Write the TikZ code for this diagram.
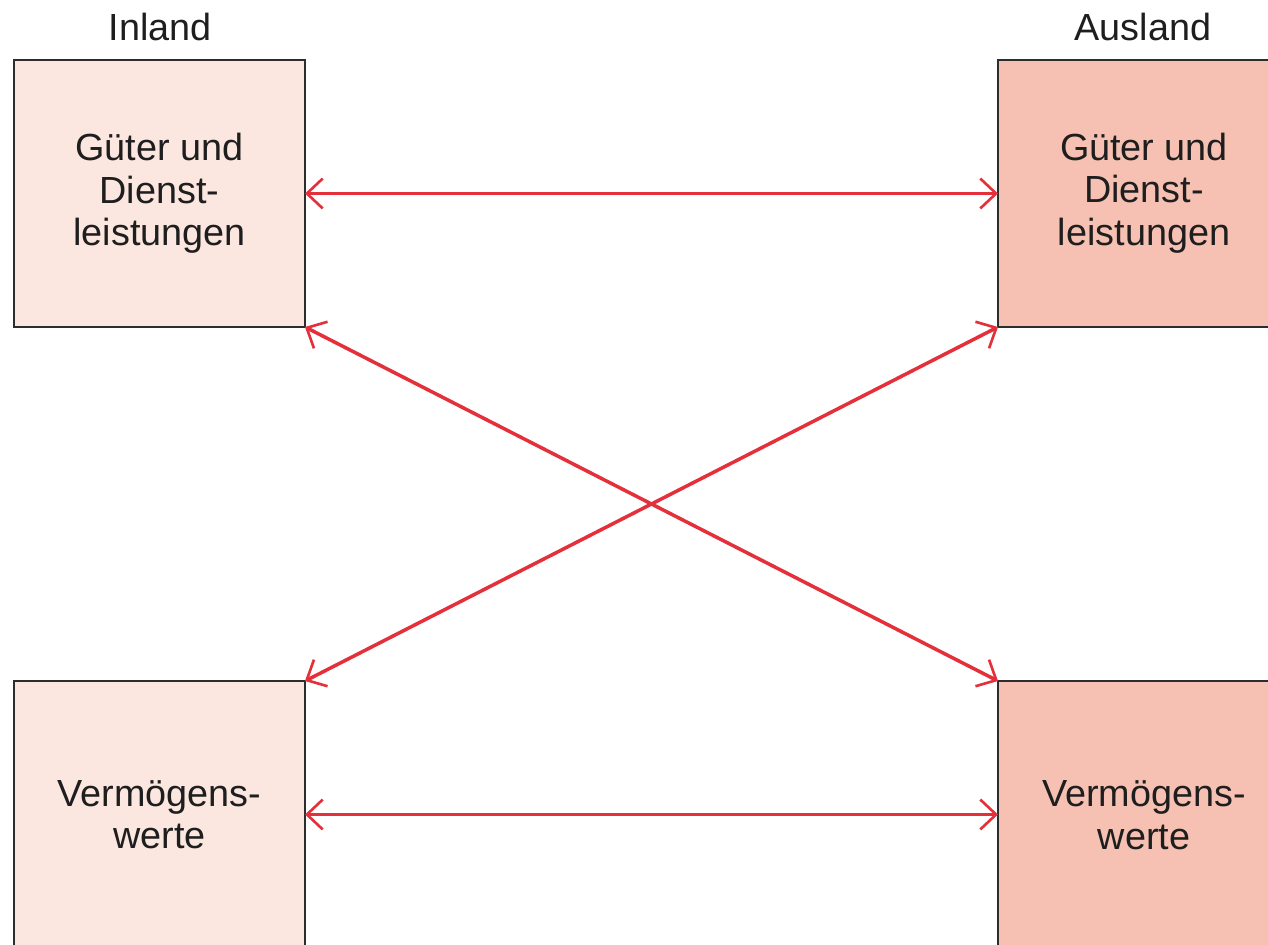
\documentclass[tikz,border=0pt]{standalone}
\usepackage{fontspec}
\setmainfont{Liberation Sans}
\usetikzlibrary{arrows.meta}
\definecolor{inlandfill}{RGB}{251,231,224}
\definecolor{auslandfill}{RGB}{246,193,178}
\definecolor{boxline}{RGB}{45,45,45}
\definecolor{flowred}{RGB}{228,48,58}
\definecolor{txt}{RGB}{30,30,30}
\begin{document}
\begin{tikzpicture}[x=0.02cm,y=-0.02cm,
  box/.style={draw=boxline,line width=1.2pt,rectangle,minimum width=5.82cm,minimum height=5.34cm,inner sep=0pt,outer sep=0pt,align=center,text=txt,font=\fontsize{21.5}{24.2}\selectfont},
  inbox/.style={box,fill=inlandfill},
  ausbox/.style={box,fill=auslandfill},
  head/.style={font=\fontsize{21.5}{24.2}\selectfont,inner sep=0pt,text=txt},
  flow/.style={draw=flowred,line width=2pt,{Straight Barb[length=9pt,width=17pt,line width=1.5pt]}-{Straight Barb[length=9pt,width=17pt,line width=1.5pt]}}]
\useasboundingbox (0,0) rectangle (1268,945);
\clip (0,0) rectangle (1268,945);
\node[head] (hin) at (160,27) {Inland};
\node[head] (haus) at (1143,27) {Ausland};
\node[inbox] (tl) at (159.5,193.5) {Güter und\\Dienst-\\leistungen};
\node[ausbox] (tr) at (1143.5,193.5) {};
\node[head,align=center] (trt) at (1144,193) {Güter und\\Dienst-\\leistungen};
\node[inbox] (bl) at (159.5,814.5) {Vermögens-\\werte};
\node[ausbox] (br) at (1143.5,814.5) {};
\node[head,align=center] (brt) at (1144,815) {Vermögens-\\werte};
\draw[flow] (tl.east) -- (tr.west);
\draw[flow] (bl.east) -- (br.west);
\draw[flow] (tl.south east) -- (br.north west);
\draw[flow] (tr.south west) -- (bl.north east);
\end{tikzpicture}
\end{document}
